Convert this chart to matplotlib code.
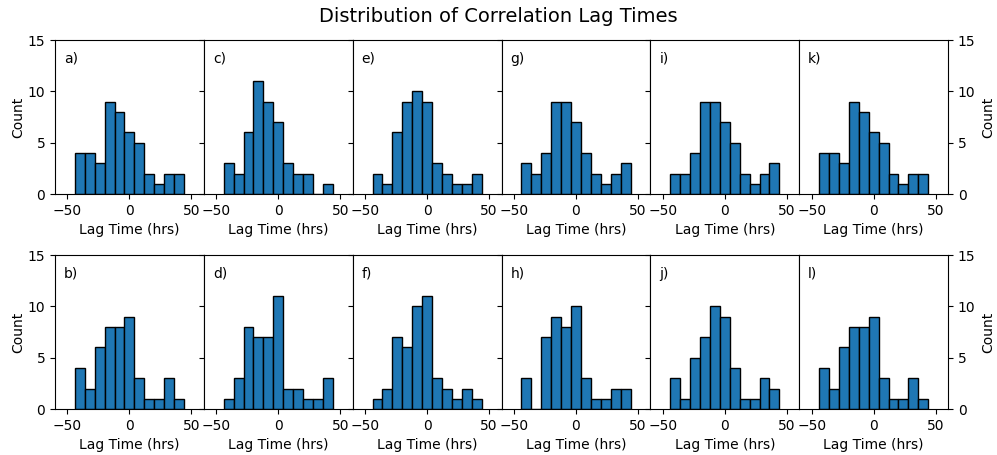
import matplotlib
matplotlib.use('Agg')
import matplotlib.pyplot as plt
import numpy as np

# histogram bin edges (hrs) shared by every panel
bin_edges = np.arange(-44, 45, 8)

# counts per bin, panel label -> counts
counts_a = [4, 4, 3, 9, 8, 6, 5, 2, 1, 2, 2]
counts_b = [4, 2, 6, 8, 8, 9, 3, 1, 1, 3, 1]
counts_c = [3, 2, 6, 11, 9, 7, 3, 2, 2, 0, 1]
counts_d = [1, 3, 8, 7, 7, 11, 2, 2, 1, 1, 3]
counts_e = [2, 1, 6, 9, 10, 9, 3, 2, 1, 1, 2]
counts_f = [1, 2, 7, 6, 10, 11, 3, 2, 1, 2, 1]
counts_g = [3, 2, 4, 9, 9, 7, 4, 2, 1, 2, 3]
counts_h = [3, 0, 7, 9, 8, 10, 3, 1, 1, 2, 2]
counts_i = [2, 2, 4, 9, 9, 7, 5, 2, 1, 2, 3]
counts_j = [3, 1, 5, 7, 10, 9, 4, 1, 1, 3, 2]
counts_k = [4, 4, 3, 9, 8, 6, 5, 2, 1, 2, 2]
counts_l = [4, 2, 6, 8, 8, 9, 3, 1, 1, 3, 1]

top_row = [('a)', counts_a), ('c)', counts_c), ('e)', counts_e),
           ('g)', counts_g), ('i)', counts_i), ('k)', counts_k)]
bottom_row = [('b)', counts_b), ('d)', counts_d), ('f)', counts_f),
              ('h)', counts_h), ('j)', counts_j), ('l)', counts_l)]

centers = (bin_edges[:-1] + bin_edges[1:]) / 2

fig, axes = plt.subplots(2, 6, figsize=(9.97, 4.55), dpi=100)
fig.subplots_adjust(left=0.0552, right=0.9509, top=0.912, bottom=0.101,
                    wspace=0, hspace=0.396)
fig.suptitle('Distribution of Correlation Lag Times', fontsize=14, y=0.985)

for r, row in enumerate([top_row, bottom_row]):
    for c, (lab, cnt) in enumerate(row):
        ax = axes[r, c]
        ax.hist(centers, bins=bin_edges, weights=cnt,
                color='#1f77b4', edgecolor='black', linewidth=1)
        ax.set_xlim(-60, 60)
        ax.set_ylim(0, 15)
        ax.set_xticks([-50, 0, 50])
        ax.set_yticks([0, 5, 10, 15])
        ax.set_xlabel('Lag Time (hrs)')
        ax.text(0.06, 0.88, lab, transform=ax.transAxes, ha='left', va='center')
        if c == 0:
            ax.set_ylabel('Count', labelpad=2)
        elif c == 5:
            ax.yaxis.tick_right()
            ax.yaxis.set_label_position('right')
            ax.set_ylabel('Count', labelpad=4)
        else:
            ax.set_yticklabels([])

fig.savefig('out.png', dpi=100)
